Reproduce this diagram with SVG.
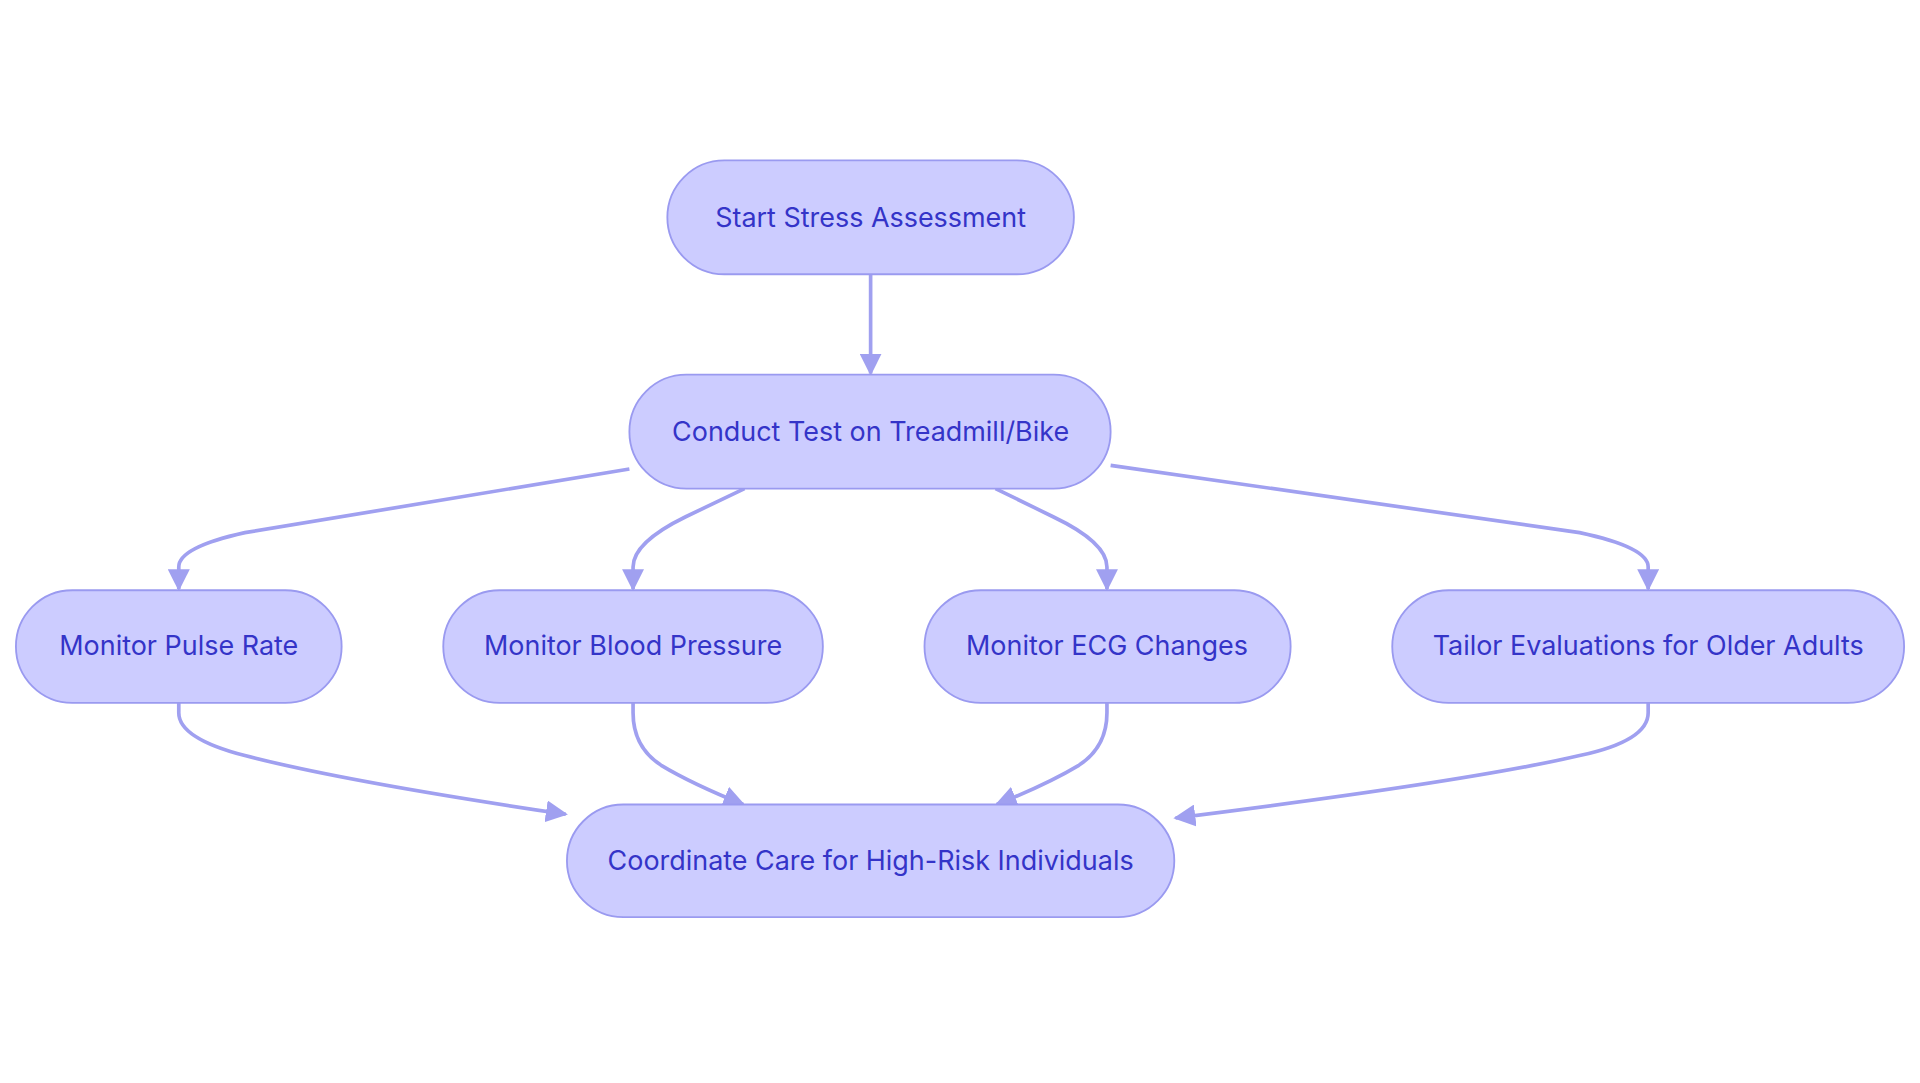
<svg xmlns="http://www.w3.org/2000/svg" width="1920" height="1083" viewBox="0 0 1920 1083">
<style>
.n{fill:#ccccff;stroke:#9a9af0;stroke-width:1.5}
.t{font-family:Inter,"Noto Sans",sans-serif;font-size:22px;fill:#3434c8;text-anchor:middle;dominant-baseline:central}
.e{fill:none;stroke:#a0a0f0;stroke-width:3;marker-end:url(#a)}
</style>
<defs><marker id="a" viewBox="0 0 10 10" refX="9" refY="5" markerWidth="6" markerHeight="6" orient="auto"><path d="M0,0L10,5L0,10z" fill="#a0a0f0"/></marker></defs>
<rect width="1920" height="1083" fill="#fff"/>
<g transform="scale(1.2245)">
<g id="connectors">
<path class="e" d="M711,224V305"/>
<path class="e" d="M514,383L200,435Q146,447 146,463V481"/>
<path class="e" d="M608,399L560,422Q517,443 517,463V481"/>
<path class="e" d="M813,399L860,422Q904,443 904,463V481"/>
<path class="e" d="M907,380L1290,435Q1346,447 1346,463V481"/>
<path class="e" d="M146,574V582Q146,603 200,617Q280,638 462,665"/>
<path class="e" d="M517,574V582Q517,610 540,625Q565,640 607,657"/>
<path class="e" d="M904,574V582Q904,610 881,625Q856,640 814,657"/>
<path class="e" d="M1346,574V582Q1346,605 1290,617Q1200,638 960,668"/>
</g>
<g id="start"><rect class="n" x="545" y="131" width="332" height="93" rx="46.5"/><text class="t" x="711" y="177">Start Stress Assessment</text></g>
<g id="conduct"><rect class="n" x="514" y="306" width="393" height="93" rx="46.5"/><text class="t" x="711" y="352">Conduct Test on Treadmill/Bike</text></g>
<g id="pulse"><rect class="n" x="13" y="482" width="266" height="92" rx="46"/><text class="t" x="146" y="527">Monitor Pulse Rate</text></g>
<g id="bp"><rect class="n" x="362" y="482" width="310" height="92" rx="46"/><text class="t" x="517" y="527">Monitor Blood Pressure</text></g>
<g id="ecg"><rect class="n" x="755" y="482" width="299" height="92" rx="46"/><text class="t" x="904" y="527">Monitor ECG Changes</text></g>
<g id="tailor"><rect class="n" x="1137" y="482" width="418" height="92" rx="46"/><text class="t" x="1346" y="527">Tailor Evaluations for Older Adults</text></g>
<g id="coord"><rect class="n" x="463" y="657" width="496" height="92" rx="46"/><text class="t" x="711" y="702">Coordinate Care for High-Risk Individuals</text></g>
</g>
</svg>
